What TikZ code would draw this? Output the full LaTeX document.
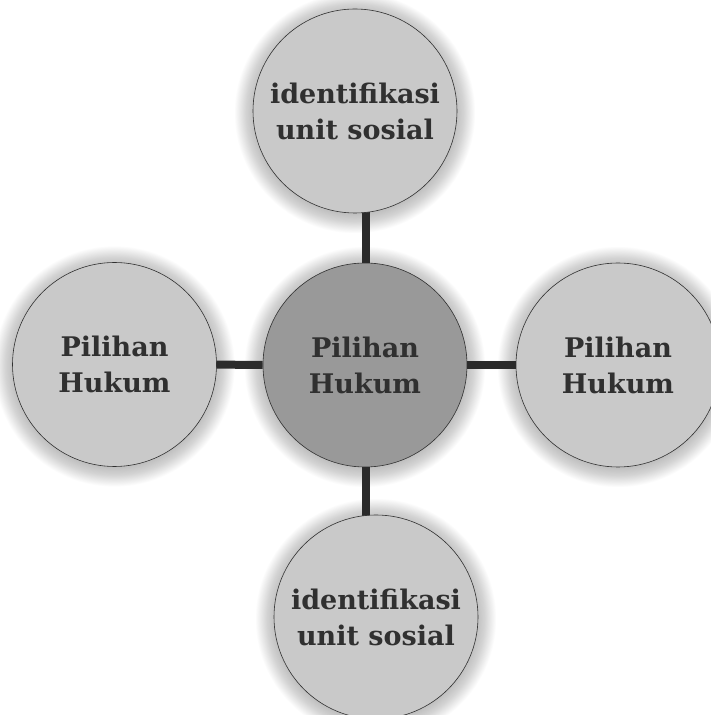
\documentclass[tikz,border=0pt]{standalone}
\usepackage{fontspec}
\setmainfont{DejaVu Serif}
\pgfdeclarelayer{shadowlayer}
\pgfdeclarelayer{linelayer}
\pgfsetlayers{shadowlayer,linelayer,main}
\definecolor{lightfill}{HTML}{C9C9C9}
\definecolor{darkfill}{HTML}{999999}
\definecolor{inkcol}{HTML}{303030}
\definecolor{linecol}{HTML}{2B2B2B}
\tikzset{
  bubble/.style={circle, draw=inkcol, line width=0.6pt, fill=lightfill, minimum size=204pt, inner sep=0pt,
     align=center, text=inkcol, font=\fontsize{27}{36}\selectfont\bfseries},
  hub/.style={bubble, fill=darkfill},
  link/.style={draw=linecol, line width=8pt}
}
\begin{document}
\begin{tikzpicture}[x=1pt,y=1pt]
\useasboundingbox (0,0) rectangle (711,715);
\node[hub] (c) at (365,350) {Pilihan\\Hukum};
\node[bubble] (t) at (355,604) {identifikasi\\unit sosial};
\node[bubble] (l) at (114.5,350.5) {Pilihan\\Hukum};
\node[bubble] (r) at (618,350) {Pilihan\\Hukum};
\node[bubble] (b) at (376,98) {identifikasi\\unit sosial};
\begin{pgfonlayer}{shadowlayer}
  \foreach \n in {c,t,l,r,b}{
    \foreach \i in {1,...,24}{
      \fill[black, opacity=0.012] ([yshift=-2pt]\n.center) circle ({101+0.8*\i});
    }
  }
\end{pgfonlayer}
\begin{pgfonlayer}{linelayer}
  \draw[link] ([xshift=1pt]c.north) -- ([xshift=1pt,yshift=10pt]c.north |- t.south);
  \draw[link] ([xshift=1pt]c.south) -- ([xshift=1pt,yshift=-10pt]c.south |- b.north);
  \draw[link] (c.west) -- ([xshift=-10pt]l.east);
  \draw[link] (c.east) -- ([xshift=10pt]r.west);
\end{pgfonlayer}
\end{tikzpicture}
\end{document}
